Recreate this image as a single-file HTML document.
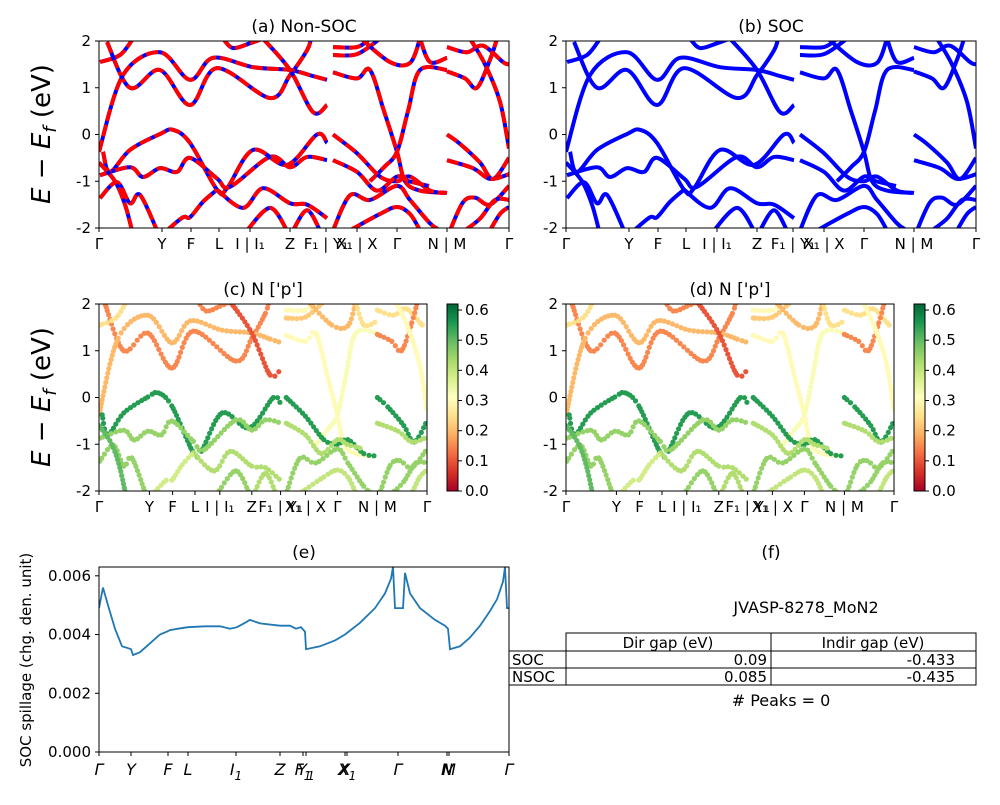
<!DOCTYPE html>
<html><head><meta charset="utf-8">
<style>
html,body{margin:0;padding:0;background:#fff;}
svg text{font-family:"DejaVu Sans","Liberation Sans",sans-serif;fill:#000;}
</style></head>
<body>
<svg id="fig" width="1000" height="800" viewBox="0 0 1000 800" xmlns="http://www.w3.org/2000/svg">
<defs>
<linearGradient id="rdylgn" x1="0" y1="1" x2="0" y2="0">
<stop offset="0" stop-color="#a50026"/><stop offset="0.1" stop-color="#d73027"/><stop offset="0.2" stop-color="#f46d43"/><stop offset="0.3" stop-color="#fdae61"/><stop offset="0.4" stop-color="#fee08b"/><stop offset="0.5" stop-color="#ffffbf"/><stop offset="0.6" stop-color="#d9ef8b"/><stop offset="0.7" stop-color="#a6d96a"/><stop offset="0.8" stop-color="#66bd63"/><stop offset="0.9" stop-color="#1a9850"/><stop offset="1" stop-color="#006837"/>
</linearGradient>
<clipPath id="clipA"><rect x="99" y="41" width="410" height="187"/></clipPath>
<clipPath id="clipB"><rect x="566" y="41" width="410" height="187"/></clipPath>
<clipPath id="clipC"><rect x="99" y="304" width="328" height="187"/></clipPath>
<clipPath id="clipD"><rect x="566" y="304" width="328" height="187"/></clipPath>
<clipPath id="clipE"><rect x="99" y="567" width="410" height="185"/></clipPath>
</defs>
</svg>
<script>
// ---- band structure data (k in path units 0..410, energy in eV, N-p weight) ----
const bandK = [
 [8,31,61,91,118,171,191,208,212],
 [0,24,61,91,114,154,191,214,228],
 [1,21,34],
 [124,134,151,164],
 [164,191,214,228],
 [4,11,31,61,74,91,118,128,154,188,218,228],
 [1,31,44,61,78,91,118,131,171,191,208,228],
 [1,18,31,41,58],
 [118,144,164,191,208,228],
 [0,16,26,33],
 [68,84,91,104,118],
 [148,171,188],
 [194,208,221],
 [234,258,271],
 [234,258,281],
 [262,291,311,321],
 [321,331,348],
 [234,258,271,285,298,306,321,346],
 [271,285,298,309,321,348],
 [234,258,281,298,311,331,348],
 [234,258,278,298,310,330],
 [234,251,271,298,311,331,341],
 [251,281,298,311,321],
 [348,368,384,404,410],
 [348,366,378,391,398],
 [371,386,401,410],
 [348,361,381,394,410],
 [348,374,391,410],
 [351,364,376,391,410],
 [366,381,396,410],
 [391,401,410]
];
const bandE = [
 [1.98,1.0,1.38,0.63,1.42,0.78,1.27,1.8,2.05],
 [-0.37,1.27,1.76,1.17,1.64,1.44,1.38,1.25,1.17],
 [1.55,1.7,2.05],
 [2.05,1.85,1.95,2.05],
 [2.05,1.38,0.48,0.63],
 [-0.37,-0.8,-0.33,0.01,0.1,-0.18,-1.18,-1.15,-0.33,-0.65,0,-0.18],
 [-0.87,-0.7,-0.91,-0.72,-0.8,-0.5,-0.94,-1.12,-0.48,-0.7,-0.48,-0.55],
 [-1.36,-1.02,-1.47,-1.29,-2.05],
 [-1.18,-1.57,-1.15,-1.47,-1.5,-1.79],
 [-0.6,-1.0,-1.5,-2.05],
 [-2.05,-1.77,-1.77,-1.44,-1.18],
 [-2.05,-1.57,-2.05],
 [-2.05,-1.62,-2.05],
 [1.87,1.87,2.05],
 [1.7,1.72,2.05],
 [2.05,1.55,1.53,2.05],
 [2.05,1.55,1.64],
 [1.33,1.2,1.38,0.5,-0.37,-1.0,-1.2,-1.25],
 [-1.0,-0.7,-0.37,0.5,1.38,1.38],
 [0,-0.4,-0.9,-1.0,-0.9,-1.2,-1.25],
 [-0.55,-0.8,-1.2,-0.9,-1.0,-1.1],
 [-2.05,-1.3,-1.4,-1.1,-1.4,-1.9,-2.05],
 [-2.05,-1.7,-1.55,-1.7,-2.05],
 [1.87,1.76,1.9,1.55,1.5],
 [1.35,1.2,1.0,1.6,2.05],
 [2.05,1.5,0.7,-0.3],
 [0.0,-0.2,-0.6,-0.95,-0.5],
 [-0.55,-0.72,-0.95,-0.85],
 [-2.05,-1.45,-1.35,-1.5,-1.1],
 [-2.05,-1.8,-1.4,-1.4],
 [-2.05,-1.7,-1.55]
];
const bandW = [0.15,0.2,0.25,0.15,0.1,0.55,0.45,0.45,0.42,0.5,0.38,0.45,0.42,0.3,0.22,0.2,0.25,0.3,0.32,0.55,0.42,0.45,0.4,0.25,0.15,0.3,0.55,0.42,0.45,0.45,0.4];
const tickK = [0,63,92,120,151,191,227,258,298,348,410];
const tickLab = ["Γ","Y","F","L","I | I₁","Z","F₁ | Y₁","X₁ | X","Γ","N | M","Γ"];
const yTicks = [-2,-1,0,1,2];
const cbTicks = [0.0,0.1,0.2,0.3,0.4,0.5,0.6];
// ---- spillage data ----
const spillK = [0,4,9,16,23,28,32,34,41,51,61,68,71,79,89,106,121,131,138,146,151,161,181,191,197,202,206,207,221,236,246,261,276,286,292,294,296,304,306,311,321,336,346,349,351,361,371,381,391,398,404,406,408,410];
const spillV = [0.0049,0.0056,0.0050,0.0042,0.0036,0.00355,0.0035,0.0033,0.0034,0.0037,0.0040,0.0041,0.00415,0.0042,0.00425,0.00428,0.00428,0.0042,0.00425,0.0044,0.0045,0.00438,0.0043,0.0043,0.0042,0.00425,0.0041,0.0035,0.0036,0.0038,0.0040,0.0044,0.0049,0.0054,0.0059,0.0063,0.0049,0.0049,0.0061,0.0054,0.0049,0.0045,0.0043,0.0042,0.0035,0.0036,0.0039,0.0043,0.0048,0.0052,0.0058,0.0063,0.0049,0.0049];
const spillTickK = [0,32,69,89,137,181,204,207,246,248,299,348,350,410];
const spillTickLab = ["Γ","Y","F","L","I₁","Z","F₁","Y₁","X","X₁","Γ","N","M","Γ"];
const spillYTicks = [0,0.002,0.004,0.006];
const tableRows = ["SOC","NSOC"];
const tableDir = ["0.09","0.085"];
const tableIndir = ["-0.433","-0.435"];

const NS="http://www.w3.org/2000/svg";
const svg=document.getElementById('fig');
function mk(tag,attrs,parent){const e=document.createElementNS(NS,tag);for(const k in attrs)e.setAttribute(k,attrs[k]);(parent||svg).appendChild(e);return e;}
function txt(x,y,s,size,anchor,parent){const t=mk('text',{x:x,y:y,'font-size':size,'text-anchor':anchor||'middle'},parent);t.textContent=s;return t;}
const stops=[[0,'#a50026'],[0.1,'#d73027'],[0.2,'#f46d43'],[0.3,'#fdae61'],[0.4,'#fee08b'],[0.5,'#ffffbf'],[0.6,'#d9ef8b'],[0.7,'#a6d96a'],[0.8,'#66bd63'],[0.9,'#1a9850'],[1,'#006837']];
function hex(h){return [1,3,5].map(i=>parseInt(h.substr(i,2),16));}
function cmap(v){v=Math.max(0,Math.min(1,v/0.62));for(let i=1;i<stops.length;i++){if(v<=stops[i][0]){const a=hex(stops[i-1][1]),b=hex(stops[i][1]);const t=(v-stops[i-1][0])/(stops[i][0]-stops[i-1][0]);return 'rgb('+a.map((c,j)=>Math.round(c+(b[j]-c)*t)).join(',')+')';}}return stops[10][1];}
function smoothPath(pts){let d='M'+pts[0][0]+','+pts[0][1];for(let i=0;i<pts.length-1;i++){const p0=pts[Math.max(0,i-1)],p1=pts[i],p2=pts[i+1],p3=pts[Math.min(pts.length-1,i+2)];const c1=[p1[0]+(p2[0]-p0[0])/6,p1[1]+(p2[1]-p0[1])/6],c2=[p2[0]-(p3[0]-p1[0])/6,p2[1]-(p3[1]-p1[1])/6];d+=' C'+c1[0]+','+c1[1]+' '+c2[0]+','+c2[1]+' '+p2[0]+','+p2[1];}return d;}
function catmull(pts,t,i){const p0=pts[Math.max(0,i-1)],p1=pts[i],p2=pts[i+1],p3=pts[Math.min(pts.length-1,i+2)];const c1=[p1[0]+(p2[0]-p0[0])/6,p1[1]+(p2[1]-p0[1])/6],c2=[p2[0]-(p3[0]-p1[0])/6,p2[1]-(p3[1]-p1[1])/6];const u=1-t;return [u*u*u*p1[0]+3*u*u*t*c1[0]+3*u*t*t*c2[0]+t*t*t*p2[0],u*u*u*p1[1]+3*u*u*t*c1[1]+3*u*t*t*c2[1]+t*t*t*p2[1]];}

function bandPanel(id,x0,y0,w,h,mode,title){
  const g=mk('g',{});
  
  
  const xs=k=>x0+k/410*w, ys=e=>y0+(2-e)/4*h;
  const plot=mk('g',{'clip-path':'url(#clip'+id+')'},g);
  
  
  bandK.forEach((ks,bi)=>{
    const pts=ks.map((k,j)=>[xs(k),ys(bandE[bi][j])]);
    if(mode==='scatter'){
      const col=cmap(bandW[bi]);
      for(let i=0;i<pts.length-1;i++){
        const len=Math.hypot(pts[i+1][0]-pts[i][0],pts[i+1][1]-pts[i][1]);
        const n=Math.max(1,Math.round(len/4));
        for(let s=0;s<n;s++){const p=catmull(pts,s/n,i);const c=mk('circle',{cx:p[0].toFixed(1),cy:p[1].toFixed(1),r:2.6,fill:col},plot);
          
          }
      }
    } else {
      const d=smoothPath(pts);
      if(mode==='nonsoc'){
        const p1=mk('path',{d:d,fill:'none',stroke:'#0000ff',"stroke-width":4},plot);
        
        
        const p2=mk('path',{d:d,fill:'none',stroke:'#ff0000',"stroke-width":4,'stroke-dasharray':'12,4'},plot);
        
        
      } else {
        const p1=mk('path',{d:d,fill:'none',stroke:'#0000ff',"stroke-width":4},plot);
        
        
      }
    }
  });
  const fr=mk('rect',{x:x0,y:y0,width:w,height:h,fill:'none',stroke:'#000','stroke-width':1},g);
  
  
  yTicks.forEach(v=>{const y=ys(v);mk('line',{x1:x0-4,x2:x0,y1:y,y2:y,stroke:'#000'},g);const t=txt(x0-8,y+5,String(v),15,'end',g);
    
    });
  tickK.forEach((k,i)=>{const x=xs(k);mk('line',{x1:x,x2:x,y1:y0+h,y2:y0+h+4,stroke:'#000'},g);const t=txt(x,y0+h+21,tickLab[i],15,'middle',g);
    
    });
  const tt=txt(x0+(mode==='scatter'?164:205),y0-9,title,17,'middle',g);
  
  
}
bandPanel('A',99,41,410,187,'nonsoc','(a) Non-SOC');
bandPanel('B',566,41,410,187,'soc','(b) SOC');
bandPanel('C',99,304,328,187,'scatter','(c)  N [\'p\']');
bandPanel('D',566,304,328,187,'scatter','(d) N [\'p\']');

function colorbar(x,y0,h){
  const r=mk('rect',{x:x,y:y0,width:11,height:h,fill:'url(#rdylgn)',stroke:'#000','stroke-width':1});
  
  
  cbTicks.forEach(v=>{const y=y0+h-v/0.62*h;mk('line',{x1:x+11,x2:x+15,y1:y,y2:y,stroke:'#000'});const t=txt(x+18,y+5,v.toFixed(1),15,'start');
    
    });
}
colorbar(447,304,187);
colorbar(914,304,187);

function ylabel(cx,cy,name){
  const t=mk('text',{x:0,y:0,'font-size':26,'text-anchor':'middle',transform:'translate('+cx+','+cy+') rotate(-90)'});
  
  
  t.innerHTML='<tspan font-style="italic">E</tspan> − <tspan font-style="italic">E</tspan><tspan font-style="italic" font-size="18" dy="6">f</tspan><tspan dy="-6"> (eV)</tspan>';
}
ylabel(50,134,'y-axis-title-top');
ylabel(50,397,'y-axis-title-middle');

// ---- spillage panel ----
(function(){
  const x0=99,y0=567,w=410,h=185,ymax=0.0063;
  const xs=k=>x0+k/410*w, ys=v=>y0+h-v/ymax*h;
  const g=mk('g',{});
  
  
  const pts=spillK.map((k,i)=>xs(k).toFixed(1)+','+ys(spillV[i]).toFixed(1)).join(' ');
  const pl=mk('polyline',{points:pts,fill:'none',stroke:'#1f77b4','stroke-width':1.8,'clip-path':'url(#clipE)'},g);
  
  
  const fr=mk('rect',{x:x0,y:y0,width:w,height:h,fill:'none',stroke:'#000'},g);
  
  
  spillYTicks.forEach(v=>{const y=ys(v);mk('line',{x1:x0-4,x2:x0,y1:y,y2:y,stroke:'#000'},g);const t=txt(x0-8,y+5,v.toFixed(3),15,'end',g);
    
    });
  spillTickK.forEach((k,i)=>{const x=xs(k);mk('line',{x1:x,x2:x,y1:y0+h,y2:y0+h+4,stroke:'#000'},g);
    const t=mk('text',{x:x,y:y0+h+23,'font-size':16,'font-style':'italic','text-anchor':'middle'},g);
    const lab=spillTickLab[i];
    if(lab.endsWith('₁')){t.innerHTML=lab[0]+'<tspan font-size="12" dy="5">1</tspan>';}else t.textContent=lab;
    
    });
  const tt=txt(304,558,'(e)',17,'middle',g);
  
  
  const yl=mk('text',{x:0,y:0,'font-size':15,'text-anchor':'middle',transform:'translate(31,660) rotate(-90)'},g);
  yl.textContent='SOC spillage (chg. den. unit)';
  
  
})();

// ---- table panel ----
(function(){
  const g=mk('g',{});
  
  
  const t1=txt(771,558,'(f)',17,'middle',g);
  
  
  const t2=txt(806,613,'JVASP-8278_MoN2',16,'middle',g);
  
  
  const hdr=mk('rect',{x:566,y:633,width:410,height:18,fill:'none',stroke:'#000'},g);
  mk('line',{x1:771,x2:771,y1:633,y2:685,stroke:'#000'},g);
  txt(668,648,'Dir gap (eV)',15,'middle',g);
  txt(873,648,'Indir gap (eV)',15,'middle',g);
  tableRows.forEach((r,i)=>{
    const y=651+i*17;
    mk('rect',{x:509,y:y,width:467,height:17,fill:'none',stroke:'#000'},g);
    mk('line',{x1:566,x2:566,y1:y,y2:y+17,stroke:'#000'},g);
    const a=txt(512,y+14,r,15,'start',g);
    
    
    const b=txt(767,y+14,tableDir[i],15,'end',g);
    
    
    const c=txt(955,y+14,tableIndir[i],15,'end',g);
    
    
  });
  const p=txt(781,706,'# Peaks = 0',16,'middle',g);
  
  
})();
</script>
</body></html>
